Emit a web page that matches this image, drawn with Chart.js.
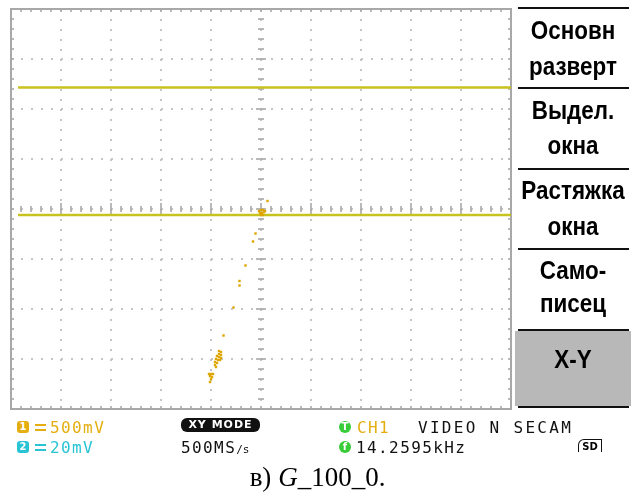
<!DOCTYPE html>
<html>
<head>
<meta charset="utf-8">
<script src="https://cdn.jsdelivr.net/npm/chart.js@4/dist/chart.umd.min.js"></script>
<style>
  html, body { margin: 0; padding: 0; background: #fff; }
  body { width: 635px; height: 497px; position: relative; overflow: hidden; }
  #wrap { position: absolute; left: 0; top: 0; width: 522px; height: 420px; }
  .menu { position: absolute; left: 513px; width: 120px; text-align: center;
          font-family: "Liberation Sans", Arial, sans-serif; font-weight: bold; font-size: 22px;
          color: #000; transform: scale(1.02, 1.18); line-height: 22px; z-index: 2; white-space: nowrap; }
  .sep { position: absolute; left: 518px; width: 111px; height: 2px; background: #111; z-index: 2; }
  #xybox { position: absolute; left: 515px; top: 331px; width: 116px; height: 75px; background: #b8b8b8; }
  .st { position: absolute; font-family: "DejaVu Sans Mono", monospace; font-size: 16px;
        letter-spacing: 1.4px; line-height: 16px; white-space: nowrap; }
  .ico { position: absolute; width: 12px; height: 12px; border-radius: 3px; color: #fff;
         font: bold 10px "DejaVu Sans", sans-serif; text-align: center; line-height: 12px; }
  .dc { position: absolute; width: 11px; height: 3px; border-top: 2px solid; border-bottom: 2px dashed; }
  #caption { position: absolute; left: 0; width: 635px; top: 462px; text-align: center;
             font-family: "Liberation Serif", "Times New Roman", serif; font-size: 27px; }
</style>
</head>
<body>
<div id="wrap"><canvas id="scope"></canvas></div>

<div class="sep" style="top:7px"></div>
<div class="sep" style="top:87px"></div>
<div class="sep" style="top:168px"></div>
<div class="sep" style="top:248px"></div>
<div id="xybox"></div>
<div class="sep" style="top:329px"></div>
<div class="sep" style="top:406px"></div>
<div class="menu" style="top:20px">Основн</div>
<div class="menu" style="top:56px">разверт</div>
<div class="menu" style="top:100px">Выдел.</div>
<div class="menu" style="top:135px">окна</div>
<div class="menu" style="top:180px">Растяжка</div>
<div class="menu" style="top:216px">окна</div>
<div class="menu" style="top:260px">Само-</div>
<div class="menu" style="top:293px">писец</div>
<div class="menu" style="top:349px">X-Y</div>

<div class="ico" style="left:17px;top:421px;background:#e4ae10">1</div>
<div class="dc" style="left:35px;top:424px;color:#e4ae10"></div>
<div class="st" style="left:50px;top:420px;color:#e4ae10">500mV</div>
<div class="ico" style="left:17px;top:441px;background:#28c4d4">2</div>
<div class="dc" style="left:35px;top:444px;color:#28c4d4"></div>
<div class="st" style="left:50px;top:440px;color:#28c4d4">20mV</div>

<div style="position:absolute;left:181px;top:418px;width:79px;height:14px;background:#111;border-radius:6px;color:#fff;
            font:bold 11px 'DejaVu Sans',sans-serif;letter-spacing:1px;text-align:center;line-height:14px">XY MODE</div>
<div class="st" style="left:181px;top:440px;color:#111">500MS<span style="font-size:11px;letter-spacing:0">/s</span></div>

<div class="ico" style="left:339px;top:421px;background:#38cc38;border-radius:6px">T</div>
<div class="st" style="left:357px;top:420px;color:#e4ae10">CH1</div>
<div class="st" style="left:418px;top:420px;color:#111;letter-spacing:2.3px">VIDEO N SECAM</div>
<div class="ico" style="left:339px;top:441px;background:#38cc38;border-radius:6px">f</div>
<div class="st" style="left:356px;top:440px;color:#111">14.2595kHz</div>
<div style="position:absolute;left:578px;top:439px;width:22px;height:12px;border:1.5px solid #111;border-bottom:none;
            border-top-left-radius:6px;font:bold 10px 'DejaVu Sans',sans-serif;text-align:center;line-height:13px">SD</div>

<div id="caption">в) <i>G</i>_100_0.</div>

<script>
// screen in divisions: 10 across, 8 high
const xDivMin = -5, xDivMax = 5;
const yDivMin = -4, yDivMax = 4;

// the two flat yellow traces
const traceX = [-4.86, 5];
const upperTraceY = [2.43, 2.43];
const lowerTraceY = [-0.12, -0.12];

// X-Y dots: cluster near centre, sparse tail, dense cluster at bottom
const dotsX = [0.13,
  -0.04, 0.00, 0.04, 0.08, -0.02, 0.02, 0.06, 0.00, 0.04,
  -0.11, -0.16, -0.31, -0.43, -0.43, -0.55, -0.75,
  -0.84, -0.80, -0.84, -0.80, -0.88, -0.84, -0.80, -0.90, -0.86, -0.82, -0.92, -0.88, -0.92, -0.90,
  -1.04, -1.00, -0.96, -1.02, -0.98, -1.00, -1.02];
const dotsY = [0.16,
  -0.04, -0.02, -0.02, -0.04, -0.08, -0.08, -0.06, -0.12, -0.12,
  -0.49, -0.65, -1.13, -1.44, -1.53, -1.97, -2.53,
  -2.84, -2.86, -2.90, -2.92, -2.94, -2.96, -2.98, -3.00, -3.02, -3.02, -3.06, -3.08, -3.12, -3.16,
  -3.30, -3.30, -3.30, -3.34, -3.36, -3.40, -3.46];

const toPts = (xs, ys) => xs.map((v, i) => ({ x: v, y: ys[i] }));

const scopeMarks = {
  id: 'scopeMarks',
  beforeDatasetsDraw(chart) {
    const { ctx, chartArea: a, scales: { x, y } } = chart;
    const seg = (x1, y1, x2, y2) => { ctx.beginPath(); ctx.moveTo(x1, y1); ctx.lineTo(x2, y2); ctx.stroke(); };
    ctx.save();
    ctx.strokeStyle = '#a8a8a8';
    ctx.lineWidth = 2;
    ctx.strokeRect(a.left, a.top, a.right - a.left, a.bottom - a.top);
    const x0 = x.getPixelForValue(0), y0 = y.getPixelForValue(0);
    ctx.lineWidth = 1.6;
    for (let i = xDivMin * 5; i <= xDivMax * 5; i++) {
      const px = Math.round(x.getPixelForValue(i / 5));
      const h = i % 5 === 0 ? 6 : 3;
      seg(px, a.top, px, a.top + 3);
      seg(px, a.bottom - 3, px, a.bottom);
      seg(px, y0 - h, px, y0 + h);
    }
    for (let j = yDivMin * 5; j <= yDivMax * 5; j++) {
      const py = Math.round(y.getPixelForValue(j / 5));
      const w = j % 5 === 0 ? 5 : 3;
      seg(a.left, py, a.left + 3, py);
      seg(a.right - 3, py, a.right, py);
      seg(x0 - w, py, x0 + w, py);
    }
    ctx.restore();
  }
};

const gridOpts = { color: '#c6c6c6', lineWidth: 2, drawTicks: false };

new Chart(document.getElementById('scope'), {
  type: 'scatter',
  data: {
    datasets: [
      { type: 'scatter', data: toPts(dotsX, dotsY), backgroundColor: '#dea600',
        pointStyle: 'rect', pointRadius: 1.7, borderWidth: 0, order: 0 },
      { type: 'line', data: toPts(traceX, upperTraceY), borderColor: '#c8c21e',
        borderWidth: 2.5, pointRadius: 0, fill: false, order: 1 },
      { type: 'line', data: toPts(traceX, lowerTraceY), borderColor: '#c8c21e',
        borderWidth: 2.5, pointRadius: 0, fill: false, order: 1 }
    ]
  },
  options: {
    responsive: true,
    maintainAspectRatio: false,
    animation: false,
    layout: { padding: { left: 11, top: 9, right: 11, bottom: 11 } },
    plugins: { legend: { display: false }, tooltip: { enabled: false } },
    scales: {
      x: { type: 'linear', min: xDivMin, max: xDivMax,
           ticks: { display: false, stepSize: 1 },
           grid: gridOpts, border: { display: false, dash: [2, 8] } },
      y: { type: 'linear', min: yDivMin, max: yDivMax,
           ticks: { display: false, stepSize: 1 },
           grid: gridOpts, border: { display: false, dash: [2, 8] } }
    }
  },
  plugins: [scopeMarks]
});
</script>
</body>
</html>
